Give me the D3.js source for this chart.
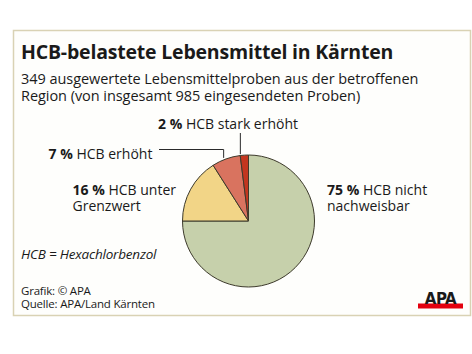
<!DOCTYPE html>
<html>
<head>
<meta charset="utf-8">
<script src="https://cdn.jsdelivr.net/npm/d3@7"></script>
<style>
    body { margin: 0; background: #ffffff; }
    svg text { font-family: "Open Sans", "Noto Sans", sans-serif; fill: #1a1a1a; }
</style>
</head>
<body>
<svg id="chart"></svg>
<script>
// data
var categories = ["HCB nicht nachweisbar", "HCB unter Grenzwert", "HCB erhöht", "HCB stark erhöht"];
var shares = [75, 16, 7, 2];
var colors = ["#c6d0ab", "#f2d587", "#d9735f", "#c3361f"];
var titleText = "HCB-belastete Lebensmittel in Kärnten";
var subtitleLines = ["349 ausgewertete Lebensmittelproben aus der betroffenen",
                     "Region (von insgesamt 985 eingesendeten Proben)"];
var sourceLines = ["Grafik: © APA", "Quelle: APA/Land Kärnten"];

var width = 472, height = 354;

var svg = d3.select("#chart")
    .attr("width", width)
    .attr("height", height);

// frame
svg.append("rect")
    .attr("x", 13.5).attr("y", 30.5)
    .attr("width", 457).attr("height", 285)
    .attr("fill", "#fefefc")
    .attr("stroke", "#d9d2b4")
    .attr("stroke-width", 1.5);

// title + subtitle
svg.append("text")
    .attr("x", 21).attr("y", 59)
    .style("font-size", "19.5px")
    .style("font-weight", "bold")
    .style("letter-spacing", "-0.2px")
    .text(titleText);

var sub = svg.append("text")
    .attr("x", 21).attr("y", 84)
    .style("font-size", "14.5px")
    .style("letter-spacing", "-0.05px");
sub.selectAll("tspan")
    .data(subtitleLines).enter()
    .append("tspan")
    .attr("x", 21)
    .attr("dy", (d, i) => i ? 17 : 0)
    .text(d => d);

// pie
var cx = 248.5, cy = 221, r = 66;
var pie = d3.pie().sort(null).value(d => d);
var arc = d3.arc().innerRadius(0).outerRadius(r);
var arcs = pie(shares);

var pieG = svg.append("g")
    .attr("transform", "translate(" + cx + "," + cy + ")");

pieG.selectAll("path")
    .data(arcs).enter()
    .append("path")
    .attr("d", arc)
    .attr("fill", (d, i) => colors[i])
    .attr("stroke", "#3d3a2c")
    .attr("stroke-width", 1);

// leader lines (anchored on slice edges)
var outer = d3.arc().innerRadius(r).outerRadius(r);
var p7 = outer.centroid(arcs[2]);
var p2 = outer.centroid(arcs[3]);
var leader = svg.append("g")
    .attr("fill", "none")
    .attr("stroke", "#2a2a2a")
    .attr("stroke-width", 1);
leader.append("polyline")
    .attr("points", [[159, 149.5], [cx + p7[0] - 2.5, 149.5], [cx + p7[0] - 2.5, cy + p7[1] - 1]].join(" "));
leader.append("line")
    .attr("x1", cx + p2[0] - 4).attr("x2", cx + p2[0] - 4)
    .attr("y1", 133).attr("y2", cy + p2[1] - 1);

// labels
var labels = [
    { i: 3, x: 158, y: 129, lines: ["HCB stark erhöht"] },
    { i: 2, x: 48.5, y: 158.5, lines: ["HCB erhöht"] },
    { i: 1, x: 72.5, y: 195, lines: ["HCB unter", "Grenzwert"] },
    { i: 0, x: 327, y: 195, lines: ["HCB nicht", "nachweisbar"] }
];

labels.forEach(function(l) {
    var t = svg.append("text")
        .attr("x", l.x).attr("y", l.y)
        .style("font-size", "14px");
    t.append("tspan")
        .style("font-weight", "bold")
        .text(shares[l.i] + " % ");
    t.append("tspan").text(l.lines[0]);
    if (l.lines.length > 1) {
        t.append("tspan")
            .attr("x", l.x).attr("dy", 16)
            .text(l.lines[1]);
    }
});

// footnote
svg.append("text")
    .attr("x", 21).attr("y", 259)
    .style("font-size", "13.5px")
    .style("font-style", "italic")
    .style("letter-spacing", "-0.2px")
    .text("HCB = Hexachlorbenzol");

var src = svg.append("text")
    .attr("x", 21).attr("y", 295)
    .style("font-size", "11.5px")
    .style("letter-spacing", "-0.2px");
src.selectAll("tspan")
    .data(sourceLines).enter()
    .append("tspan")
    .attr("x", 21)
    .attr("dy", (d, i) => i ? 13 : 0)
    .text(d => d);

// APA logo
svg.append("rect")
    .attr("x", 418).attr("y", 303.5)
    .attr("width", 45).attr("height", 5)
    .attr("fill", "#e3000f");
svg.append("text")
    .attr("x", 440.5).attr("y", 304)
    .attr("text-anchor", "middle")
    .style("font-family", "'DejaVu Sans', sans-serif")
    .style("font-size", "15px")
    .style("font-weight", "bold")
    .style("letter-spacing", "-0.5px")
    .attr("fill", "#111")
    .text("APA");
</script>
</body>
</html>
